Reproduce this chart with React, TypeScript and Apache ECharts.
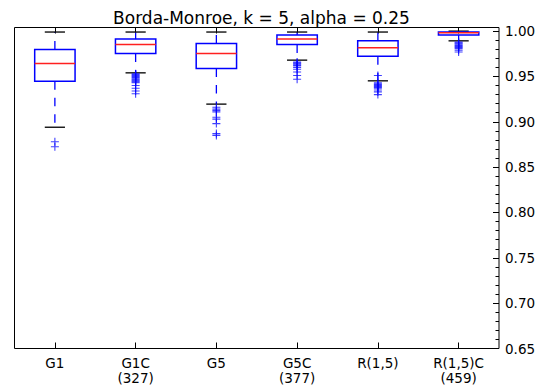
import React, { useEffect, useRef } from "react";
import * as echarts from "echarts";

const categories = ["G1", "G1C\n(327)", "G5", "G5C\n(377)", "R(1,5)", "R(1,5)C\n(459)"];
const whiskerLow = [0.894, 0.954, 0.9195, 0.968, 0.9452, 0.9893];
const q1 = [0.9448, 0.9754, 0.9589, 0.9853, 0.9724, 0.9956];
const medians = [0.9644, 0.9853, 0.9754, 0.9912, 0.9816, 0.9983];
const q3 = [0.9798, 0.9912, 0.9864, 0.9956, 0.9893, 0.999];
const whiskerHigh = [0.999, 0.999, 0.999, 0.999, 0.999, 1.0];

const fliersG1 = [0.878, 0.8725];
const fliersG1C = [0.953, 0.952, 0.951, 0.95, 0.949, 0.948, 0.947, 0.946, 0.945, 0.944, 0.943, 0.94, 0.937, 0.934, 0.931];
const fliersG5 = [0.916, 0.914, 0.9125, 0.911, 0.905, 0.903, 0.898, 0.887, 0.885];
const fliersG5C = [0.966, 0.965, 0.964, 0.963, 0.962, 0.96, 0.958, 0.955, 0.951, 0.947];
const fliersR15 = [0.951, 0.943, 0.942, 0.941, 0.94, 0.939, 0.938, 0.937, 0.935, 0.933, 0.93];
const fliersR15C = [0.988, 0.987, 0.986, 0.985, 0.984, 0.983, 0.982, 0.981, 0.979, 0.977];
const fliers = [fliersG1, fliersG1C, fliersG5, fliersG5C, fliersR15, fliersR15C];

const yMin = 0.65;
const yMax = 1.004;
const majorStep = 0.05;
const minorStep = 0.01;
const title = "Borda-Monroe, k = 5, alpha = 0.25";

const BLUE = "#0000ff";
const FONT = "DejaVu Sans";

export default function App() {
  const ref = useRef<HTMLDivElement>(null);
  useEffect(() => {
    if (!ref.current) return;
    const chart = echarts.init(ref.current, null, { renderer: "svg" });
    const boxData = categories.map((_, i) => [i, whiskerLow[i], q1[i], medians[i], q3[i], whiskerHigh[i]]);
    const flierData: number[][] = [];
    fliers.forEach((arr, i) => arr.forEach((v) => flierData.push([i, v])));

    const tickAxisCommon = {
      type: "category" as const,
      data: categories,
      boundaryGap: true,
      axisLine: { show: false },
      axisTick: { show: true, inside: true, alignWithLabel: true, length: 6, lineStyle: { color: "#000", width: 1 } },
      splitLine: { show: false },
    };

    chart.setOption({
      animation: false,
      backgroundColor: "#fff",
      title: {
        text: title,
        left: 256.5,
        top: 4,
        textAlign: "center",
        textStyle: { fontFamily: FONT, fontSize: 17, fontWeight: "normal", color: "#000" },
      },
      grid: {
        left: 14.5,
        right: 44,
        top: 27.5,
        bottom: 41.5,
        show: true,
        borderColor: "#000",
        borderWidth: 1,
        backgroundColor: "transparent",
      },
      xAxis: [
        {
          ...tickAxisCommon,
          position: "bottom",
          axisLabel: {
            show: true,
            interval: 0,
            margin: 7,
            fontFamily: FONT,
            fontSize: 13.5,
            lineHeight: 15,
            color: "#000",
          },
        },
        {
          ...tickAxisCommon,
          position: "top",
          axisLabel: { show: false },
        },
      ],
      yAxis: [
        {
          type: "value",
          position: "right",
          min: yMin,
          max: yMax,
          interval: majorStep,
          axisLine: { show: false },
          axisTick: { show: true, inside: true, length: 6, lineStyle: { color: "#000", width: 1 } },
          splitLine: { show: false },
          axisLabel: {
            show: true,
            margin: 6,
            fontFamily: FONT,
            fontSize: 13.5,
            color: "#000",
            formatter: (v: number) => {
              const k = Math.round(v / majorStep);
              return Math.abs(v - k * majorStep) < 1e-6 ? v.toFixed(2) : "";
            },
          },
        },
        {
          type: "value",
          position: "right",
          min: yMin,
          max: yMax,
          interval: minorStep,
          axisLine: { show: false },
          axisTick: { show: true, inside: true, length: 3.5, lineStyle: { color: "#000", width: 1 } },
          splitLine: { show: false },
          axisLabel: { show: false },
        },
      ],
      series: [
        {
          type: "custom",
          xAxisIndex: 0,
          yAxisIndex: 0,
          data: boxData,
          encode: { x: 0, y: [1, 2, 3, 4, 5] },
          clip: false,
          renderItem: (params: any, api: any) => {
            const idx = api.value(0);
            const bw = api.size([1, 0])[0];
            const boxW = bw * 0.5;
            const capW = bw * 0.25;
            const pMin = api.coord([idx, api.value(1)]);
            const pQ1 = api.coord([idx, api.value(2)]);
            const pMed = api.coord([idx, api.value(3)]);
            const pQ3 = api.coord([idx, api.value(4)]);
            const pMax = api.coord([idx, api.value(5)]);
            const cx = pMed[0];
            const whiskStyle = { stroke: BLUE, lineWidth: 1.3, lineDash: [8.5, 8], fill: "none" };
            const capStyle = { stroke: "#111", lineWidth: 1.4, fill: "none" };
            return {
              type: "group",
              children: [
                { type: "line", shape: { x1: cx, y1: pQ3[1], x2: cx, y2: pMax[1] }, style: whiskStyle },
                { type: "line", shape: { x1: cx, y1: pQ1[1], x2: cx, y2: pMin[1] }, style: whiskStyle },
                { type: "line", shape: { x1: cx - capW / 2, y1: pMax[1], x2: cx + capW / 2, y2: pMax[1] }, style: capStyle },
                { type: "line", shape: { x1: cx - capW / 2, y1: pMin[1], x2: cx + capW / 2, y2: pMin[1] }, style: capStyle },
                {
                  type: "rect",
                  shape: { x: cx - boxW / 2, y: pQ3[1], width: boxW, height: pQ1[1] - pQ3[1] },
                  style: { stroke: BLUE, lineWidth: 1.5, fill: "none" },
                },
                {
                  type: "line",
                  shape: { x1: cx - boxW / 2, y1: pMed[1], x2: cx + boxW / 2, y2: pMed[1] },
                  style: { stroke: "#ff2020", lineWidth: 1.5 },
                },
              ],
            };
          },
        },
        {
          type: "scatter",
          xAxisIndex: 0,
          yAxisIndex: 0,
          data: flierData,
          symbol: "path://M3.45,0H4.55V3.45H8V4.55H4.55V8H3.45V4.55H0V3.45H3.45Z",
          symbolSize: 8,
          itemStyle: { color: BLUE, opacity: 0.75 },
          silent: true,
        },
      ],
    });
    return () => chart.dispose();
  }, []);
  return <div ref={ref} style={{ width: 543, height: 390, position: "absolute", left: 0, top: 0 }} />;
}
